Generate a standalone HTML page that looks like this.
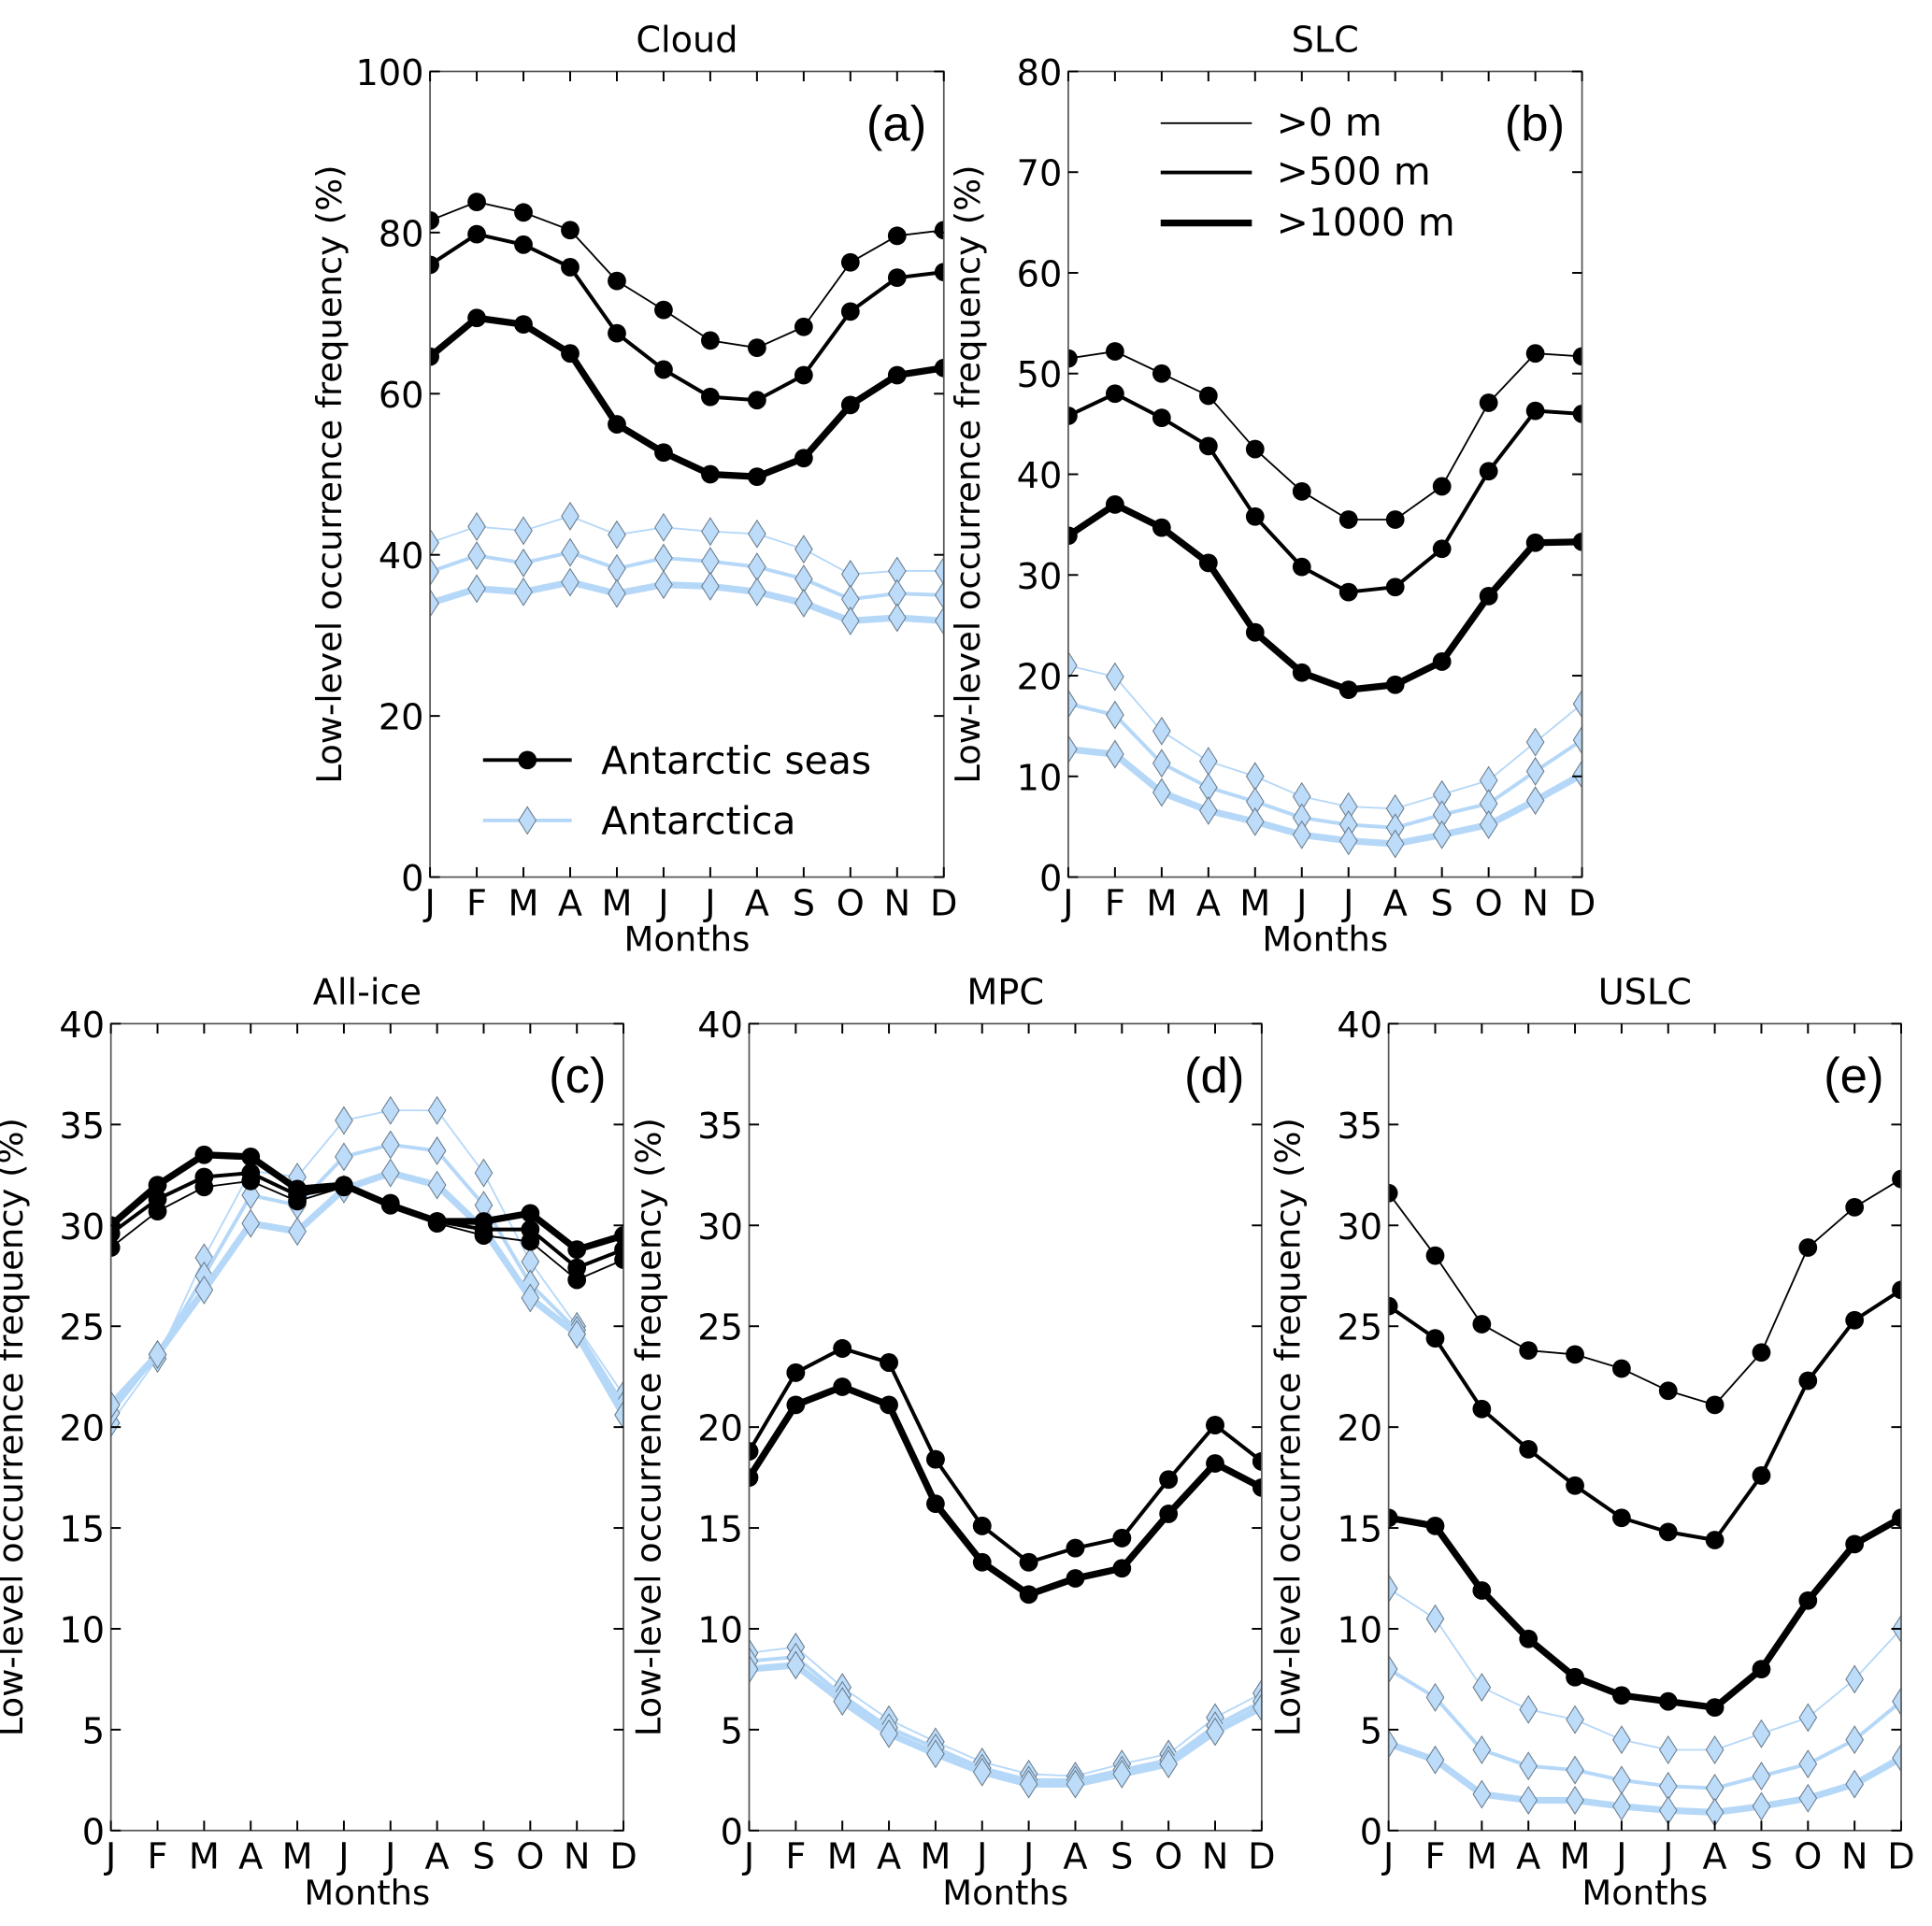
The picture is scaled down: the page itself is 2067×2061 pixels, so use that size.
<!DOCTYPE html>
<html><head><meta charset="utf-8"><style>
html,body{margin:0;padding:0;background:#fff}
svg{display:block;font-family:"DejaVu Sans","Liberation Sans",sans-serif}
</style></head><body>
<svg id="fig" xmlns="http://www.w3.org/2000/svg" width="2067" height="2061" viewBox="0 0 1568 1563.5"></svg>
<script>
const months=["J","F","M","A","M","J","J","A","S","O","N","D"];
// Panel (a) Cloud
const aSeas0=[81.5,83.8,82.5,80.3,74,70.4,66.6,65.7,68.3,76.3,79.6,80.3];
const aSeas500=[76,79.8,78.5,75.7,67.5,63,59.6,59.2,62.3,70.2,74.4,75.1];
const aSeas1000=[64.6,69.4,68.6,65,56.2,52.7,50,49.7,52,58.6,62.3,63.2];
const aAnt0=[41.5,43.5,43,44.8,42.5,43.4,42.9,42.6,40.7,37.6,38,38];
const aAnt500=[37.9,39.9,39,40.3,38.3,39.6,39.2,38.5,37,34.5,35.2,35];
const aAnt1000=[34,35.8,35.4,36.6,35.2,36.3,36.1,35.4,34,31.8,32.2,31.8];
// Panel (b) SLC
const bSeas0=[51.5,52.2,50,47.8,42.5,38.3,35.5,35.5,38.8,47.1,52,51.7];
const bSeas500=[45.8,48,45.6,42.8,35.8,30.8,28.3,28.8,32.6,40.3,46.3,46];
const bSeas1000=[33.9,37,34.7,31.2,24.3,20.3,18.6,19.1,21.4,27.9,33.2,33.3];
const bAnt0=[21,19.9,14.5,11.5,10,8,7,6.8,8.2,9.6,13.4,17.2];
const bAnt500=[17.2,16.1,11.3,8.9,7.5,5.9,5.2,4.9,6.2,7.3,10.5,13.6];
const bAnt1000=[12.7,12.2,8.4,6.6,5.5,4.2,3.6,3.3,4.2,5.2,7.6,10.2];
// Panel (c) All-ice
const cSeas0=[28.9,30.7,31.9,32.2,31.2,31.9,31,30.1,29.5,29.2,27.3,28.3];
const cSeas500=[29.6,31.3,32.4,32.6,31.5,31.9,31.1,30.2,29.8,29.8,27.9,28.8];
const cSeas1000=[30,32,33.5,33.4,31.8,32,31,30.2,30.2,30.6,28.8,29.5];
const cAnt0=[20.2,23.4,28.4,32.7,32.4,35.2,35.7,35.7,32.6,28.2,25,21.6];
const cAnt500=[20.7,23.6,27.5,31.5,31,33.4,34,33.7,31,27.1,24.8,21.1];
const cAnt1000=[21.1,23.6,26.8,30.1,29.7,31.8,32.6,32,29.8,26.4,24.6,20.6];
// Panel (d) MPC
const dSeas0=[18.8,22.7,23.9,23.2,18.4,15.1,13.3,14,14.5,17.4,20.1,18.3];
const dSeas500=[18.8,22.7,23.9,23.2,18.4,15.1,13.3,14,14.5,17.4,20.1,18.3];
const dSeas1000=[17.5,21.1,22,21.1,16.2,13.3,11.7,12.5,13,15.7,18.2,17];
const dAnt0=[8.8,9.1,7.1,5.5,4.4,3.4,2.8,2.7,3.3,3.8,5.6,6.8];
const dAnt500=[8.4,8.6,6.7,5.1,4.1,3.1,2.5,2.5,3,3.5,5.2,6.4];
const dAnt1000=[8,8.2,6.4,4.8,3.8,2.9,2.3,2.3,2.8,3.3,4.9,6.1];
// Panel (e) USLC
const eSeas0=[31.6,28.5,25.1,23.8,23.6,22.9,21.8,21.1,23.7,28.9,30.9,32.3];
const eSeas500=[26,24.4,20.9,18.9,17.1,15.5,14.8,14.4,17.6,22.3,25.3,26.8];
const eSeas1000=[15.5,15.1,11.9,9.5,7.6,6.7,6.4,6.1,8,11.4,14.2,15.5];
const eAnt0=[12,10.5,7.1,6,5.5,4.5,4,4,4.8,5.6,7.5,10];
const eAnt500=[8,6.6,4,3.2,3,2.5,2.2,2.1,2.7,3.3,4.5,6.4];
const eAnt1000=[4.3,3.5,1.8,1.5,1.5,1.2,1,0.9,1.2,1.6,2.3,3.6];

const aTicks=[0,20,40,60,80,100];
const bTicks=[0,10,20,30,40,50,60,70,80];
const cdeTicks=[0,5,10,15,20,25,30,35,40];

const NS="http://www.w3.org/2000/svg";
const fig=document.getElementById('fig');
function mk(tag,attrs,parent){const e=document.createElementNS(NS,tag);for(const k in attrs)e.setAttribute(k,attrs[k]);(parent||fig).appendChild(e);return e;}
const widths=[1.4,3,5.5];
const LB="#b6d8f8";

function panel(id,x0,x1,yTop,yBot,ymax,ticks,title,letter,seas,ant){
  const g=mk('g',{});
  
  
  const xs=i=>x0+(x1-x0)*i/11;
  const ys=v=>yBot-(yBot-yTop)*v/ymax;
  const cp=mk('clipPath',{id:'clip'+id},g);
  mk('rect',{x:x0,y:yTop,width:x1-x0,height:yBot-yTop},cp);
  const plot=mk('g',{'clip-path':'url(#clip'+id+')'},g);
  ant.forEach((arr,k)=>{
    const s=mk('g',{},plot);
    
    
    mk('polyline',{points:arr.map((v,i)=>xs(i)+','+ys(v)).join(' '),fill:'none',stroke:LB,'stroke-width':widths[k],'stroke-linejoin':'round'},s);
    arr.forEach((v,i)=>{const x=xs(i),y=ys(v);
      const d=mk('polygon',{points:`${x},${y-11} ${x+7},${y} ${x},${y+11} ${x-7},${y}`,fill:'#bcdcfa',stroke:'#6a7c8c','stroke-width':0.8},s);
      
      });
  });
  seas.forEach((arr,k)=>{
    const s=mk('g',{},plot);
    
    
    mk('polyline',{points:arr.map((v,i)=>xs(i)+','+ys(v)).join(' '),fill:'none',stroke:'#000','stroke-width':widths[k],'stroke-linejoin':'round'},s);
    arr.forEach((v,i)=>{
      const c=mk('circle',{cx:xs(i),cy:ys(v),r:7.5,fill:'#000'},s);
      
      });
  });
  const fr=mk('rect',{x:x0,y:yTop,width:x1-x0,height:yBot-yTop,fill:'none',stroke:'#555','stroke-width':1.3},g);
  
  
  ticks.forEach(t=>{const y=ys(t);
    mk('line',{x1:x0,x2:x0+8,y1:y,y2:y,stroke:'#000','stroke-width':1.5},g);
    mk('line',{x1:x1,x2:x1-8,y1:y,y2:y,stroke:'#000','stroke-width':1.5},g);
    const tl=mk('text',{x:x0-5,y:y+11,'text-anchor':'end','font-size':29},g);
    tl.textContent=t;
    
    });
  months.forEach((m,i)=>{const x=xs(i);
    mk('line',{x1:x,x2:x,y1:yBot,y2:yBot-8,stroke:'#000','stroke-width':1.5},g);
    mk('line',{x1:x,x2:x,y1:yTop,y2:yTop+8,stroke:'#000','stroke-width':1.5},g);
    const tl=mk('text',{x:x,y:yBot+31,'text-anchor':'middle','font-size':29},g);
    tl.textContent=m;
    
    });
  const xl=mk('text',{x:(x0+x1)/2,y:yBot+60,'text-anchor':'middle','font-size':28},g);
  xl.textContent='Months';
  
  
  const yl=mk('text',{x:0,y:0,'text-anchor':'middle','font-size':28,transform:`translate(${x0-72},${(yTop+yBot)/2}) rotate(-90)`},g);
  yl.textContent='Low-level occurrence frequency (%)';
  
  
  const tt=mk('text',{x:(x0+x1)/2,y:yTop-16,'text-anchor':'middle','font-size':29},g);
  tt.textContent=title;
  
  
  const lt=mk('text',{x:x1-14,y:yTop+56,'text-anchor':'end','font-size':40,'font-family':'Liberation Sans, sans-serif'},g);
  lt.textContent=letter;
  
  
  return g;
}
panel('a',349,766,58,712,100,aTicks,'Cloud','(a)',[aSeas0,aSeas500,aSeas1000],[aAnt0,aAnt500,aAnt1000]);
panel('b',867,1284,58,712,80,bTicks,'SLC','(b)',[bSeas0,bSeas500,bSeas1000],[bAnt0,bAnt500,bAnt1000]);
panel('c',90,506,831,1486,40,cdeTicks,'All-ice','(c)',[cSeas0,cSeas500,cSeas1000],[cAnt0,cAnt500,cAnt1000]);
panel('d',608,1024,831,1486,40,cdeTicks,'MPC','(d)',[dSeas0,dSeas500,dSeas1000],[dAnt0,dAnt500,dAnt1000]);
panel('e',1127,1543,831,1486,40,cdeTicks,'USLC','(e)',[eSeas0,eSeas500,eSeas1000],[eAnt0,eAnt500,eAnt1000]);

const lg=mk('g',{});


mk('line',{x1:392,x2:464,y1:617,y2:617,stroke:'#000','stroke-width':3},lg);
mk('circle',{cx:428,cy:617,r:7.5,fill:'#000'},lg);
let t=mk('text',{x:488,y:628,'font-size':31},lg);t.textContent='Antarctic seas';


mk('line',{x1:392,x2:464,y1:666,y2:666,stroke:LB,'stroke-width':3},lg);
mk('polygon',{points:'428,655 435,666 428,677 421,666',fill:'#bcdcfa',stroke:'#6a7c8c','stroke-width':0.8},lg);
t=mk('text',{x:488,y:677,'font-size':31},lg);t.textContent='Antarctica';


const lb=mk('g',{});


[['>0 m',1.4,100],['>500 m',3,140],['>1000 m',5.5,181]].forEach(([s,w,y])=>{
  mk('line',{x1:942,x2:1016,y1:y,y2:y,stroke:'#000','stroke-width':w},lb);
  const e=mk('text',{x:1036,y:y+10,'font-size':31},lb);e.textContent=s;
  
  
});
</script>
</body></html>
